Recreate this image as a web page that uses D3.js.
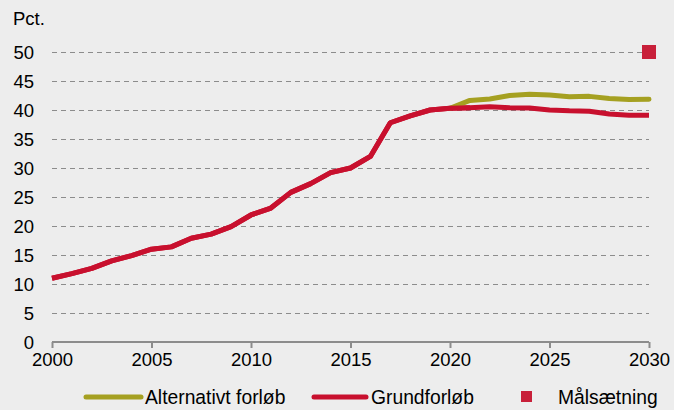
<!DOCTYPE html>
<html>
<head>
<meta charset="utf-8">
<script src="https://cdn.jsdelivr.net/npm/d3@7"></script>
<style>
    html, body { margin: 0; padding: 0; background: #EDEDED; }
    #chart { width: 674px; height: 410px; }
    text { font-family: 'Liberation Sans', Arial, sans-serif; fill: #000; }
</style>
</head>
<body>
<div id="chart"></div>
<script>
//Datos
const years = d3.range(2000, 2031);
const grundforlob = [11.0, 11.8, 12.7, 14.0, 14.9, 16.0, 16.4, 17.9, 18.6, 19.9,
    21.9, 23.1, 25.8, 27.3, 29.2, 30.0, 32.0, 37.8, 39.0, 40.0,
    40.3, 40.4, 40.55, 40.4, 40.35, 40.0, 39.85, 39.8, 39.3, 39.1, 39.1];
const altYears = d3.range(2020, 2031);
const alternativt = [40.3, 41.65, 41.9, 42.5, 42.7, 42.6, 42.3, 42.35, 42.0, 41.8, 41.85];
const maal = [{ year: 2030, value: 50 }];
const yTicks = [0, 5, 10, 15, 20, 25, 30, 35, 40, 45, 50];
const xTicks = [2000, 2005, 2010, 2015, 2020, 2025, 2030];

//Colores fijos
const COLOR_GREEN = '#A5A021',
    COLOR_RED = '#C8102E',
    COLOR_TARGET = '#C8203A',
    COLOR_GRID = '#8C8C8C';
const FONT = '18.5px', FONT_LEGEND = '19.3px';

let margin = {top: 52, right: 24, bottom: 68, left: 52},
    width = 674 - margin.left - margin.right,
    height = 410 - margin.top - margin.bottom;

let svg = d3.select('#chart')
    .append('svg')
        .attr('width', 674)
        .attr('height', 410)
    .append('g')
        .attr('transform', 'translate(' + margin.left + ',' + margin.top + ')');

let x = d3.scaleLinear().domain([2000, 2030]).range([0, 597]);
let y = d3.scaleLinear().domain([0, 50]).range([height, 0]);

//Eje Y con rejilla
let yAxis = function(g) {
    g.call(d3.axisLeft(y).tickValues(yTicks).tickSize(0).tickPadding(18));
    g.call(function(g) { g.select('.domain').remove(); });
    g.selectAll('.tick text').style('font-size', FONT).attr('dy', '0.35em');
    g.selectAll('.tick').filter(function(d) { return d != 0; })
        .append('line')
        .attr('x1', 0)
        .attr('x2', 597)
        .attr('stroke', COLOR_GRID)
        .attr('stroke-width', 1.2)
        .attr('stroke-dasharray', '5,4');
};
svg.append('g').call(yAxis);

//Eje X
let xAxis = function(g) {
    g.call(d3.axisBottom(x).tickValues(xTicks).tickFormat(d3.format('d')).tickSize(6).tickPadding(5));
    g.select('.domain').attr('stroke', COLOR_GRID).attr('stroke-width', 2).attr('d', 'M0,0H597');
    g.selectAll('.tick line').attr('stroke', COLOR_GRID).attr('stroke-width', 2);
    g.selectAll('.tick text').style('font-size', FONT);
};
svg.append('g')
    .attr('transform', 'translate(0,' + height + ')')
    .call(xAxis);

//Título eje
svg.append('text')
    .attr('x', 13 - margin.left)
    .attr('y', 25 - margin.top)
    .style('font-size', FONT)
    .text('Pct.');

//Líneas
let line = d3.line()
    .x(function(d) { return x(d[0]); })
    .y(function(d) { return y(d[1]); });

svg.append('path')
    .datum(d3.zip(years, grundforlob))
    .attr('fill', 'none')
    .attr('stroke', COLOR_RED)
    .attr('stroke-width', 5)
    .attr('stroke-linejoin', 'round')
    .attr('d', line);

svg.append('path')
    .datum(d3.zip(altYears, alternativt))
    .attr('fill', 'none')
    .attr('stroke', COLOR_GREEN)
    .attr('stroke-width', 5)
    .attr('stroke-linejoin', 'round')
    .attr('stroke-linecap', 'round')
    .attr('d', line);

//Tramo inicial rojo por encima del verde
svg.append('path')
    .datum(d3.zip(years, grundforlob).filter(function(d) { return d[0] <= 2021; }))
    .attr('fill', 'none')
    .attr('stroke', COLOR_RED)
    .attr('stroke-width', 5)
    .attr('stroke-linejoin', 'round')
    .attr('d', line);

//Målsætning
svg.selectAll('.target')
    .data(maal)
    .enter()
    .append('rect')
    .attr('class', 'target')
    .attr('x', function(d) { return x(d.year) - 7; })
    .attr('y', function(d) { return y(d.value) - 7; })
    .attr('width', 14)
    .attr('height', 14)
    .attr('fill', COLOR_TARGET);

//Leyenda
let legend = d3.select('#chart svg').append('g');

legend.append('line')
    .attr('x1', 86).attr('x2', 141).attr('y1', 397).attr('y2', 397)
    .attr('stroke', COLOR_GREEN).attr('stroke-width', 5).attr('stroke-linecap', 'round');
legend.append('text')
    .attr('x', 145).attr('y', 404)
    .style('font-size', FONT_LEGEND)
    .text('Alternativt forløb');

legend.append('line')
    .attr('x1', 314).attr('x2', 366).attr('y1', 397).attr('y2', 397)
    .attr('stroke', COLOR_RED).attr('stroke-width', 5).attr('stroke-linecap', 'round');
legend.append('text')
    .attr('x', 371).attr('y', 404)
    .style('font-size', FONT_LEGEND)
    .text('Grundforløb');

legend.append('rect')
    .attr('x', 521).attr('y', 391).attr('width', 11).attr('height', 11)
    .attr('fill', COLOR_TARGET);
legend.append('text')
    .attr('x', 558).attr('y', 404)
    .style('font-size', FONT_LEGEND)
    .text('Målsætning');
</script>
</body>
</html>
